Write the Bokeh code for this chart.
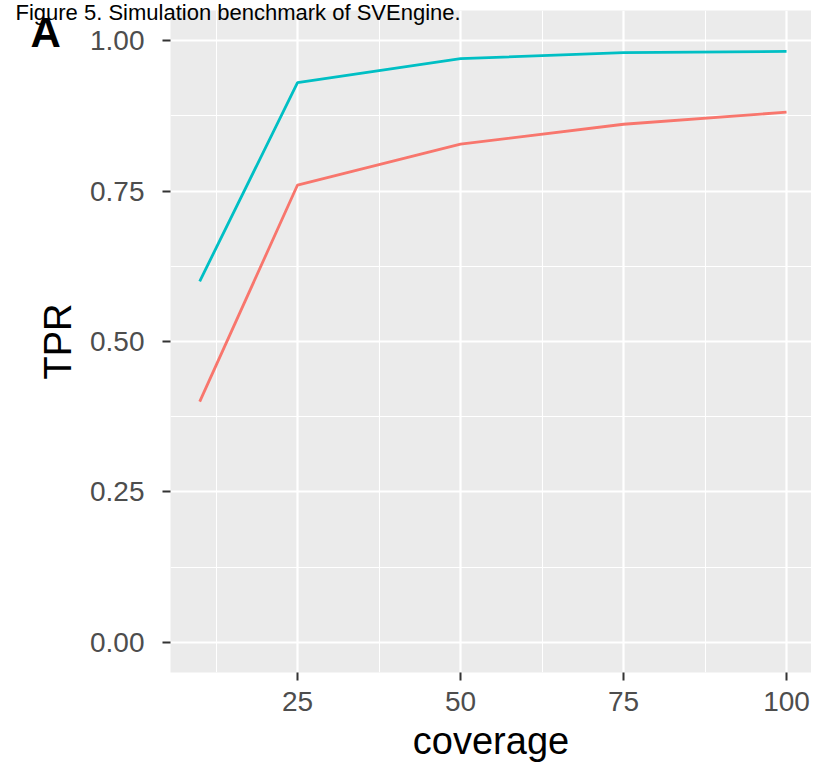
from bokeh.plotting import figure
from bokeh.models import Range1d, FixedTicker, Title, NumeralTickFormatter
from bokeh.embed import file_html
from bokeh.resources import INLINE

# Data
coverage = [10, 25, 50, 75, 100]
tpr_method_a = [0.40, 0.76, 0.828, 0.861, 0.881]   # red series
tpr_method_b = [0.60, 0.930, 0.970, 0.980, 0.982]  # cyan series
x_ticks = [25, 50, 75, 100]
x_minor = [12.5, 37.5, 62.5, 87.5]
y_ticks = [0.0, 0.25, 0.5, 0.75, 1.0]
y_minor = [0.125, 0.375, 0.625, 0.875]
title_text = "Figure 5. Simulation benchmark of SVEngine."
panel_letter = "A"

FONT = "Liberation Sans"

p = figure(width=811, height=764, output_backend="svg", toolbar_location=None,
           x_range=Range1d(5.52, 103.83), y_range=Range1d(-0.05, 1.05),
           min_border_left=170, min_border_right=0, min_border_top=10,
           min_border_bottom=91)

p.background_fill_color = "#EBEBEB"
p.border_fill_color = "white"
p.outline_line_color = None

p.line(coverage, tpr_method_a, line_color="#F8766D", line_width=2.8)
p.line(coverage, tpr_method_b, line_color="#00BFC4", line_width=2.8)

# Axes
p.xaxis.ticker = FixedTicker(ticks=x_ticks, minor_ticks=x_minor)
p.yaxis.ticker = FixedTicker(ticks=y_ticks, minor_ticks=y_minor)
p.yaxis.formatter = NumeralTickFormatter(format="0.00")

for ax in (p.xaxis[0], p.yaxis[0]):
    ax.axis_line_color = None
    ax.major_tick_line_color = "#333333"
    ax.major_tick_line_width = 2
    ax.major_tick_out = 8
    ax.major_tick_in = 0
    ax.minor_tick_line_color = None
    ax.major_label_text_font = FONT
    ax.major_label_text_font_size = "28px"
    ax.major_label_text_color = "#4D4D4D"
    ax.axis_label_text_font = FONT
    ax.axis_label_text_font_size = "38px"
    ax.axis_label_text_font_style = "normal"
    ax.axis_label_text_color = "black"

p.xaxis.axis_label = "coverage"
p.yaxis.axis_label = "TPR"
p.xaxis.major_label_standoff = 11
p.xaxis.axis_label_standoff = 6
p.yaxis.major_label_standoff = 18
p.yaxis.axis_label_standoff = 8

# Grid
for g in (p.xgrid[0], p.ygrid[0]):
    g.grid_line_color = "white"
    g.grid_line_width = 2.2
    g.minor_grid_line_color = "white"
    g.minor_grid_line_width = 1.1

# Title and panel letter as titles with negative standoff so they overlap the panel
p.add_layout(Title(text=title_text, align="left", offset=-155, standoff=-29,
                   text_font=FONT, text_font_size="22px",
                   text_font_style="normal", text_color="black",
                   vertical_align="bottom"), "above")
p.add_layout(Title(text=panel_letter, align="left", offset=-140, standoff=-90,
                   text_font=FONT, text_font_size="42px",
                   text_font_style="bold", text_color="black",
                   vertical_align="bottom"), "above")

open("out.html", "w").write(file_html(p, INLINE))
